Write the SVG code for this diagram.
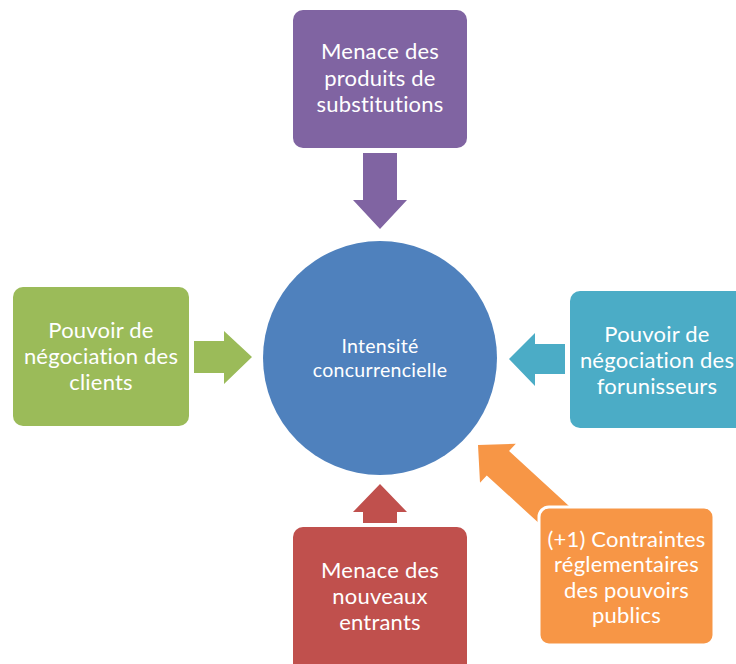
<svg xmlns="http://www.w3.org/2000/svg" width="736" height="664" viewBox="0 0 736 664">
<style>
.lbl{font-family:Lato,"Liberation Sans",Arial,sans-serif;font-size:22px;fill:#fff;text-anchor:middle;letter-spacing:0.2px}
.ctr{font-family:Lato,"Liberation Sans",Arial,sans-serif;font-size:19.5px;fill:#fff;text-anchor:middle;letter-spacing:0.3px}
</style>
<rect width="736" height="664" fill="#fff"/>
<g id="connectors">
<polygon fill="#8064A2" points="363,153 397,153 397,200 407,200 380,229 353,200 363,200"/>
<polygon fill="#4BACC6" points="565,344 565,374 535,374 535,386 509,359 535,333 535,344"/>
<polygon fill="#9BBB59" points="194,341 224,341 224,331 252,357 224,384 224,373 194,373"/>
<polygon fill="#C0504D" points="380,484 407,512 397,512 397,523 363,523 363,512 353,512"/>
<polygon fill="#F79646" transform="translate(478,445) rotate(222.5)" points="0,0 -27,-26.5 -27,-16.5 -115,-16.5 -115,16.5 -27,16.5 -27,26.5"/>
</g>
<g id="center">
<circle cx="380" cy="358" r="117" fill="#4F81BD"/>
<text class="ctr" x="380" y="353">Intensité</text>
<text class="ctr" x="380" y="377">concurrencielle</text>
</g>
<g id="substitutes">
<rect x="293" y="10" width="174" height="138" rx="10" fill="#8064A2"/>
<text class="lbl" x="380" y="59">Menace des</text>
<text class="lbl" x="380" y="86">produits de</text>
<text class="lbl" x="380" y="112">substitutions</text>
</g>
<g id="clients">
<rect x="13" y="287" width="176" height="139" rx="10" fill="#9BBB59"/>
<text class="lbl" x="101" y="338">Pouvoir de</text>
<text class="lbl" x="101" y="364">négociation des</text>
<text class="lbl" x="101" y="390">clients</text>
</g>
<g id="suppliers">
<rect x="570" y="291" width="175" height="137" rx="10" fill="#4BACC6"/>
<text class="lbl" x="657" y="342">Pouvoir de</text>
<text class="lbl" x="657" y="368">négociation des</text>
<text class="lbl" x="657" y="394">forunisseurs</text>
</g>
<g id="entrants">
<rect x="293" y="527" width="174" height="150" rx="10" fill="#C0504D"/>
<text class="lbl" x="380" y="578">Menace des</text>
<text class="lbl" x="380" y="604">nouveaux</text>
<text class="lbl" x="380" y="630">entrants</text>
</g>
<g id="public">
<rect x="539" y="507" width="175" height="138" rx="10" fill="#F79646" stroke="#fff" stroke-width="3"/>
<text class="lbl" x="626.5" y="546.5">(+1) Contraintes</text>
<text class="lbl" x="626.5" y="572">réglementaires</text>
<text class="lbl" x="626.5" y="597.5">des pouvoirs</text>
<text class="lbl" x="626.5" y="623">publics</text>
</g>
</svg>
